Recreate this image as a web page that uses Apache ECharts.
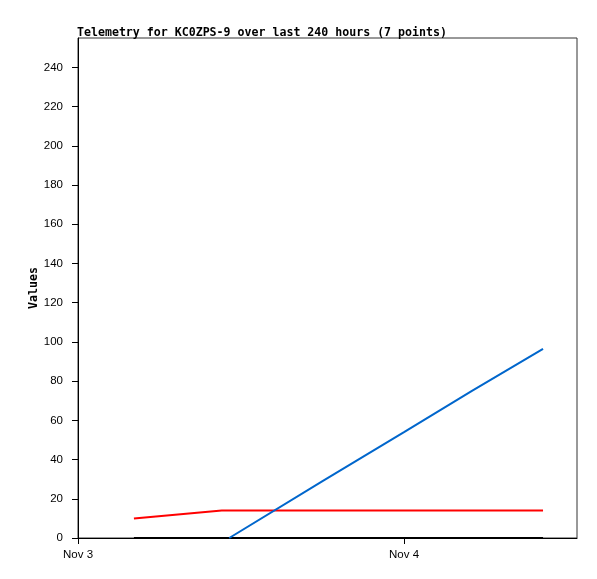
<!DOCTYPE html>
<html><head><meta charset="utf-8">
<script src="https://cdn.jsdelivr.net/npm/echarts@6/dist/echarts.min.js"></script>
<style>html,body{margin:0;padding:0;background:#fff}#c{width:597px;height:579px}</style>
</head><body><div id="c"></div>
<script>
// Data
var times = ["2023-11-03T04:07:00Z","2023-11-03T10:35:00Z","2023-11-03T11:08:00Z","2023-11-03T18:00:00Z","2023-11-04T00:00:00Z","2023-11-04T05:00:00Z","2023-11-04T10:14:00Z"];
var redValues   = [10, 14, 14, 14, 14, 14, 14];
var blueValues  = [null, null, 0, 29, 54, 75, 96.4];
var blackValues = [0, 0, 0, 0, 0, 0, 0];
var xTickTimes  = ["2023-11-03T00:00:00Z","2023-11-04T00:00:00Z"];
var xTickNames  = ["Nov 3","Nov 4"];
var yTicks = [0,20,40,60,80,100,120,140,160,180,200,220,240];

var origin = Date.parse("2023-11-03T00:00:00Z");
function hrs(t){ return (Date.parse(t) - origin) / 3600000; }
var xMin = 0;
var xMax = hrs("2023-11-04T12:44:00Z");
function pairs(vals){ return times.map(function(t,i){ return [hrs(t), vals[i]]; }); }
var xTickHrs = xTickTimes.map(hrs);

var chart = echarts.init(document.getElementById('c'), null, {renderer:'canvas'});
var sans = 'Liberation Sans, Arial, sans-serif';
var mono = 'DejaVu Sans Mono, monospace';
chart.setOption({
  animation:false,
  backgroundColor:'#fff',
  title:{text:'Telemetry for KC0ZPS-9 over last 240 hours (7 points)', left:72, top:22,
    textStyle:{fontFamily:mono, fontWeight:'bold', fontSize:11.6, color:'#000'}},
  grid:{left:78, top:38, right:20, bottom:41, show:true, borderColor:'#333', borderWidth:1, backgroundColor:'transparent'},
  xAxis:{type:'value', min:xMin, max:xMax,
    axisLine:{lineStyle:{color:'#000', width:1}},
    axisTick:{show:true, length:6, lineStyle:{color:'#000'}, customValues:xTickHrs},
    axisLabel:{customValues:xTickHrs, color:'#000', fontFamily:sans, fontSize:11.5, margin:11,
      formatter:function(v){ for (var i=0;i<xTickHrs.length;i++){ if (Math.abs(xTickHrs[i]-v)<1e-6) return xTickNames[i]; } return ''; }},
    splitLine:{show:false}},
  yAxis:{type:'value', min:0, max:255, name:'Values', nameLocation:'middle', nameGap:38, nameMoveOverlap:false,
    nameTextStyle:{fontFamily:mono, fontWeight:'bold', fontSize:11.6, color:'#000'},
    axisLine:{show:true, lineStyle:{color:'#000', width:1}},
    axisTick:{show:true, length:6, lineStyle:{color:'#000'}, customValues:yTicks},
    axisLabel:{customValues:yTicks, color:'#000', fontFamily:sans, fontSize:11.5, margin:15},
    splitLine:{show:false}},
  series:[
    {type:'line', data:pairs(blackValues), showSymbol:false, lineStyle:{color:'#000', width:2}, itemStyle:{color:'#000'}, z:3},
    {type:'line', data:pairs(redValues), showSymbol:false, lineStyle:{color:'#ff0000', width:2}, itemStyle:{color:'#ff0000'}, z:2},
    {type:'line', data:pairs(blueValues), showSymbol:false, connectNulls:false, lineStyle:{color:'#0066cc', width:2}, itemStyle:{color:'#0066cc'}, z:4}
  ]
});
</script></body></html>
